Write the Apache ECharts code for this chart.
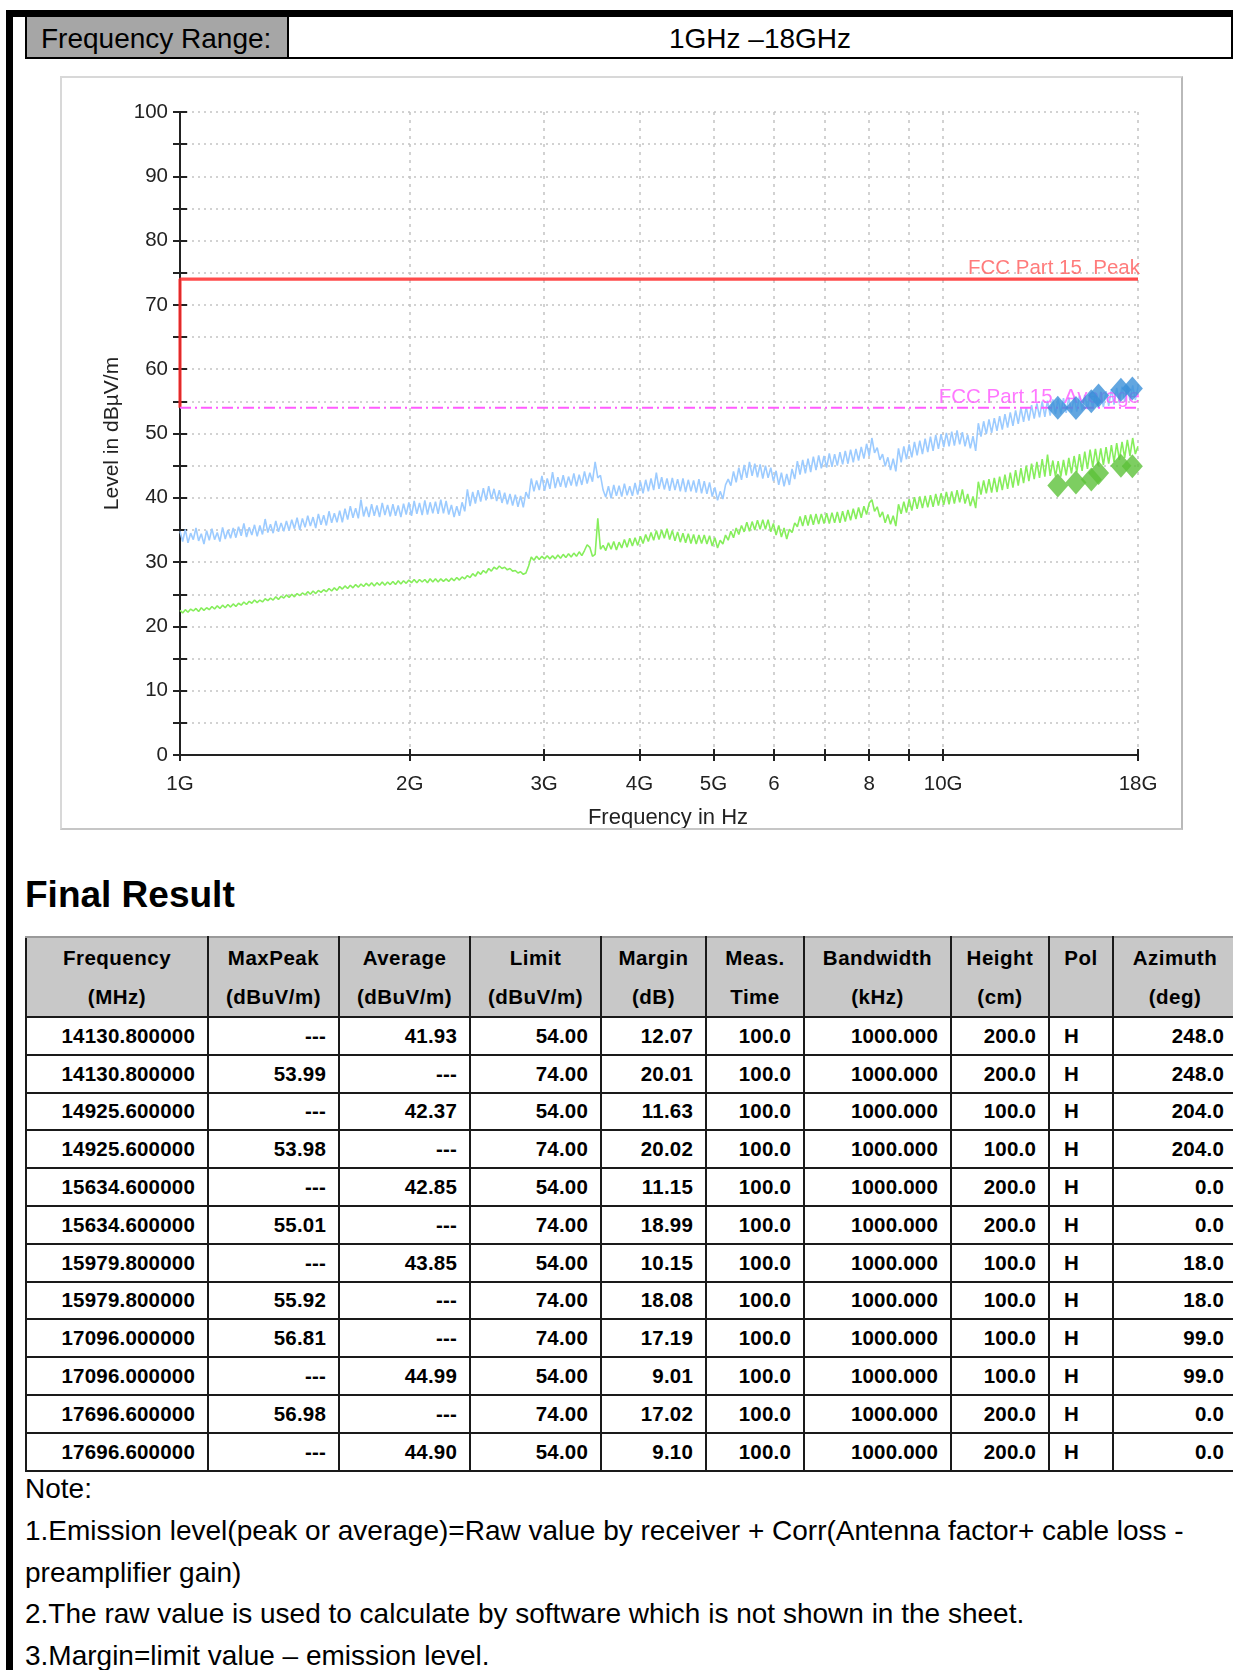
<!DOCTYPE html>
<html>
<head>
<meta charset="utf-8">
<script src="https://cdn.jsdelivr.net/npm/echarts@6/dist/echarts.min.js"></script>
<style>
html,body{margin:0;padding:0;background:#fff;}
body{width:1233px;height:1670px;position:relative;overflow:hidden;font-family:"Liberation Sans",Arial,sans-serif;color:#000;}
.bar{position:absolute;background:#000;}
#rangeRow{position:absolute;left:25px;top:17px;width:1208px;height:42px;box-sizing:border-box;border-left:2px solid #000;border-bottom:2px solid #000;border-right:2px solid #000;display:flex;}
#rangeLabel{width:262px;background:#a6a6a6;border-right:2px solid #000;font-size:28px;line-height:40px;padding-left:14px;padding-top:2px;box-sizing:border-box;white-space:nowrap;}
#rangeValue{flex:1;text-align:center;font-size:28px;line-height:40px;padding-top:2px;white-space:nowrap;}
#chartBox{position:absolute;left:60px;top:76px;width:1123px;height:754px;box-sizing:border-box;border:2px solid #d8d8d8;border-right-color:#b9b9b9;border-bottom-color:#c6c6c6;}
#chart{position:absolute;left:0;top:0;width:1119px;height:750px;}
#finalTitle{position:absolute;left:25px;top:875px;font-size:37px;font-weight:bold;line-height:40px;}
#result{position:absolute;left:25px;top:936px;border-collapse:collapse;table-layout:fixed;width:1211px;}
#result th,#result td{border:2px solid #1a1a1a;font-weight:bold;font-size:20.5px;padding:0;overflow:hidden;white-space:nowrap;}
#result thead th{background:#c8c8c8;height:76px;line-height:39px;text-align:center;letter-spacing:0.5px;border-top-color:#9a9a9a;}
#result td{height:35.8px;text-align:right;padding-right:12px;letter-spacing:0.2px;}
#result td.pol{text-align:left;padding-left:14px;padding-right:0;}
#notes{position:absolute;left:25px;top:1468px;font-size:28px;line-height:41.8px;white-space:nowrap;}
</style>
</head>
<body>
<div class="bar" style="left:6px;top:10px;width:1227px;height:7px;"></div>
<div class="bar" style="left:6px;top:10px;width:7px;height:1660px;"></div>
<div id="rangeRow"><div id="rangeLabel">Frequency Range:</div><div id="rangeValue">1GHz –18GHz</div></div>
<div id="chartBox"><div id="chart"></div></div>
<div id="finalTitle">Final Result</div>
<table id="result">
<colgroup>
<col style="width:182px"><col style="width:131px"><col style="width:131px"><col style="width:131px"><col style="width:105px"><col style="width:98px"><col style="width:147px"><col style="width:98px"><col style="width:64px"><col style="width:124px">
</colgroup>
<thead><tr id="headRow"></tr></thead>
<tbody id="tbody"></tbody>
</table>
<div id="notes">Note:<br>1.Emission level(peak or average)=Raw value by receiver + Corr(Antenna factor+ cable loss -<br>preamplifier gain)<br>2.The raw value is used to calculate by software which is not shown in the sheet.<br>3.Margin=limit value – emission level.</div>

<script>
// ---------------- DATA ----------------
// Sweep grid (GHz) of the measured traces: log-spaced between start and stop
const sweepStartGHz = 1;
const sweepStopGHz = 18;

// Peak detector trace (dBµV/m)
const peakTrace = [
34.8,33.2,35.1,33.0,34.5,33.5,35.3,33.3,34.4,32.8,34.9,33.4,35.2,33.5,34.6,33.2,35.4,33.6,35.0,33.7,
35.3,33.8,35.5,34.1,36.0,33.9,35.4,34.2,35.8,34.0,35.7,34.3,36.7,34.6,35.9,34.5,36.4,34.7,36.1,34.8,
36.4,34.9,36.6,35.2,36.9,35.0,36.8,35.4,37.2,35.6,37.0,35.3,37.5,35.8,37.3,35.7,37.9,36.1,37.6,36.2,
38.0,36.2,38.3,36.6,38.7,36.9,38.4,36.8,39.7,37.1,38.6,37.0,39.0,37.2,38.8,37.0,39.2,37.3,38.9,37.1,
39.0,37.2,38.8,37.0,39.1,37.4,39.3,37.2,39.5,37.5,39.2,37.3,39.6,37.4,39.3,37.6,39.4,37.5,39.7,37.6,
39.5,37.4,38.9,37.0,38.7,37.2,39.3,37.9,41.3,38.7,40.9,39.1,41.2,39.4,41.5,39.6,41.8,39.8,41.4,39.5,
41.2,39.2,40.8,39.0,40.6,38.8,40.5,38.6,40.3,38.5,40.9,39.9,43.0,41.0,42.7,41.2,43.4,41.1,43.0,41.4,
44.0,41.5,43.2,41.7,43.5,41.6,43.3,41.9,43.8,41.8,43.6,42.0,44.1,42.2,43.9,42.5,45.6,43.1,43.5,41.2,
40.1,41.8,39.9,42.0,40.3,41.9,40.2,42.2,40.4,41.8,40.3,42.3,40.5,42.5,40.7,42.8,41.0,43.0,41.2,43.9,
41.4,43.2,41.3,43.0,41.1,43.1,41.2,42.9,41.0,43.0,40.9,42.8,41.0,42.7,40.8,42.9,40.7,42.6,40.6,42.4,
40.2,41.6,39.6,41.0,39.8,42.0,42.9,41.9,44.1,42.4,44.7,42.8,45.1,43.1,45.6,43.4,45.3,43.2,45.2,43.0,
45.0,43.1,44.7,42.6,44.2,42.0,43.9,41.8,43.7,42.0,44.5,42.9,45.7,43.6,45.9,43.8,46.1,44.0,46.4,44.3,
46.6,44.6,46.5,44.7,46.9,44.8,46.8,45.0,47.1,45.2,47.3,45.3,47.5,45.5,47.6,45.8,47.9,46.1,48.4,46.5,
49.3,47.0,47.8,45.9,46.8,44.9,46.3,44.3,46.1,44.1,47.7,45.5,48.0,46.0,48.3,46.3,48.7,46.6,48.9,46.8,
49.2,47.1,49.5,47.3,49.8,47.6,49.9,47.9,50.1,48.0,50.3,48.1,50.5,48.3,50.2,48.0,49.8,47.7,49.6,47.3,
51.6,49.5,51.9,49.9,52.2,50.1,52.4,50.4,52.7,50.6,53.0,50.9,53.3,51.2,53.6,51.5,54.0,51.8,54.1,52.0,
54.4,52.3,54.7,52.5,55.0,52.6,55.1,52.8,55.3,53.0,55.4,53.1,55.5,53.2,55.6,53.3,55.7,53.4,55.9,53.6,
56.0,53.8,56.2,53.9,56.3,54.0,56.5,54.1,56.6,54.3,56.9,54.5,57.1,54.7,57.3,54.9,57.4,55.1,57.5,55.2,
57.2];

// Average detector trace (dBµV/m)
const avgTrace = [
22.5,22.1,22.6,22.2,22.7,22.4,22.8,22.3,22.9,22.5,22.9,22.6,23.1,22.7,23.2,22.8,23.3,22.9,23.4,23.0,
23.5,23.1,23.6,23.3,23.8,23.4,23.9,23.6,24.1,23.7,24.1,23.8,24.3,24.0,24.4,24.1,24.6,24.2,24.7,24.4,
24.9,24.5,25.0,24.6,25.1,24.8,25.2,24.9,25.4,25.0,25.5,25.1,25.6,25.3,25.7,25.4,25.9,25.5,26.0,25.6,
26.2,25.8,26.3,25.9,26.4,26.0,26.5,26.1,26.6,26.2,26.7,26.3,26.8,26.3,26.8,26.4,26.9,26.4,26.9,26.5,
27.0,26.5,27.1,26.6,27.1,26.7,27.2,26.8,27.3,26.8,27.3,26.9,27.3,26.8,27.4,26.9,27.4,26.9,27.4,27.0,
27.4,27.0,27.5,27.1,27.6,27.2,27.7,27.4,27.9,27.6,28.2,27.8,28.5,28.1,28.7,28.3,29.0,28.6,29.2,28.9,
29.4,29.0,29.2,28.8,29.0,28.6,28.7,28.3,28.5,28.1,28.3,29.4,30.8,30.3,30.9,30.4,30.9,30.5,31.0,30.5,
31.0,30.5,31.1,30.6,31.2,30.7,31.3,30.8,31.4,30.9,31.6,31.0,31.8,32.7,32.3,30.9,31.2,36.8,32.0,32.6,
31.8,33.0,32.0,33.2,31.9,33.1,32.2,33.5,32.3,33.7,32.5,33.8,32.6,34.0,32.9,34.3,33.2,34.6,33.4,34.9,
33.5,35.0,33.7,35.2,33.5,34.9,33.3,34.7,33.1,34.5,33.0,34.4,32.9,34.3,32.8,34.2,32.9,34.2,32.8,34.1,
32.5,33.8,32.2,33.4,32.8,34.2,33.4,34.8,33.8,35.3,34.3,35.7,34.7,36.2,34.8,36.3,35.0,36.5,35.1,36.6,
35.1,36.6,34.7,36.0,34.2,35.7,33.9,35.3,33.6,35.1,34.6,36.1,35.5,37.1,35.6,37.3,35.7,37.4,35.8,37.5,
35.9,37.5,36.0,37.6,36.0,37.7,36.1,37.8,36.1,37.9,36.3,38.1,36.5,38.3,36.7,38.5,36.9,38.7,37.4,39.2,
39.7,37.9,38.6,37.0,37.8,36.1,37.4,35.9,37.2,35.6,39.0,37.5,39.4,37.7,39.8,38.0,40.1,38.3,40.2,38.4,
40.3,38.5,40.4,38.6,40.6,38.8,40.7,38.9,40.9,39.0,41.0,39.1,41.2,39.3,41.3,39.1,40.6,38.7,40.2,38.4,
42.5,40.5,42.7,40.7,42.9,40.8,43.1,40.9,43.3,41.2,43.6,41.4,43.9,41.6,44.3,41.9,44.6,42.3,45.0,42.6,
45.3,42.9,45.6,43.1,46.0,43.3,46.7,43.4,45.8,43.3,45.7,43.3,45.9,43.5,46.2,43.8,46.5,44.0,46.8,44.2,
47.2,44.5,47.5,44.8,47.6,45.0,47.7,45.1,47.9,45.3,48.2,45.6,48.5,45.9,48.7,46.2,49.0,46.5,49.3,46.8,
48.0];

// Limits
const peakLimit = 74;
const avgLimit = 54;
const peakLimitName = 'FCC Part 15  Peak';
const avgLimitName = 'FCC Part 15  Average';

// Axis ticks (GHz)
const xTickFreqs = [1, 2, 3, 4, 5, 6, 7, 8, 9, 10, 18];
const xLabelFreqs = [1, 2, 3, 4, 5, 6, 8, 10, 18];
const xLabelTexts = ['1G', '2G', '3G', '4G', '5G', '6', '8', '10G', '18G'];

// Final result table
const resFreq = [14130.8, 14130.8, 14925.6, 14925.6, 15634.6, 15634.6, 15979.8, 15979.8, 17096.0, 17096.0, 17696.6, 17696.6];
const resMaxPeak = [null, 53.99, null, 53.98, null, 55.01, null, 55.92, 56.81, null, 56.98, null];
const resAverage = [41.93, null, 42.37, null, 42.85, null, 43.85, null, null, 44.99, null, 44.90];
const resLimit = [54, 74, 54, 74, 54, 74, 54, 74, 74, 54, 74, 54];
const resMargin = [12.07, 20.01, 11.63, 20.02, 11.15, 18.99, 10.15, 18.08, 17.19, 9.01, 17.02, 9.10];
const resMeasTime = [100, 100, 100, 100, 100, 100, 100, 100, 100, 100, 100, 100];
const resBandwidth = [1000, 1000, 1000, 1000, 1000, 1000, 1000, 1000, 1000, 1000, 1000, 1000];
const resHeight = [200, 200, 100, 100, 200, 200, 100, 100, 100, 100, 200, 200];
const resPol = ['H', 'H', 'H', 'H', 'H', 'H', 'H', 'H', 'H', 'H', 'H', 'H'];
const resAzimuth = [248, 248, 204, 204, 0, 0, 18, 18, 99, 99, 0, 0];
const headLines = [['Frequency', '(MHz)'], ['MaxPeak', '(dBuV/m)'], ['Average', '(dBuV/m)'], ['Limit', '(dBuV/m)'], ['Margin', '(dB)'], ['Meas.', 'Time'], ['Bandwidth', '(kHz)'], ['Height', '(cm)'], ['Pol', ''], ['Azimuth', '(deg)']];

// ---------------- TABLE ----------------
const headRow = document.getElementById('headRow');
headLines.forEach(h => {
  const th = document.createElement('th');
  th.innerHTML = h[0] + '<br>' + (h[1] || '&nbsp;');
  headRow.appendChild(th);
});
const tbody = document.getElementById('tbody');
const dash = '---';
for (let i = 0; i < resFreq.length; i++) {
  const cells = [
    resFreq[i].toFixed(6),
    resMaxPeak[i] == null ? dash : resMaxPeak[i].toFixed(2),
    resAverage[i] == null ? dash : resAverage[i].toFixed(2),
    resLimit[i].toFixed(2),
    resMargin[i].toFixed(2),
    resMeasTime[i].toFixed(1),
    resBandwidth[i].toFixed(3),
    resHeight[i].toFixed(1),
    resPol[i],
    resAzimuth[i].toFixed(1)
  ];
  const tr = document.createElement('tr');
  cells.forEach((c, k) => {
    const td = document.createElement('td');
    td.textContent = c;
    if (k === 8) td.className = 'pol';
    tr.appendChild(td);
  });
  tbody.appendChild(tr);
}

// ---------------- CHART ----------------
const lg = v => Math.log10(v);
const n = peakTrace.length;
const sweepFreq = peakTrace.map((_, i) => sweepStartGHz * Math.pow(sweepStopGHz / sweepStartGHz, i / (n - 1)));
const FONT = '"Liberation Sans", Arial, sans-serif';
const xMin = lg(sweepStartGHz), xMax = lg(sweepStopGHz);

function xLabel(v) {
  const f = Math.pow(10, v);
  for (let i = 0; i < xLabelFreqs.length; i++) {
    if (Math.abs(xLabelFreqs[i] - f) < 0.01) return xLabelTexts[i];
  }
  return '';
}

const peakMarks = [], avgMarks = [];
for (let i = 0; i < resFreq.length; i++) {
  if (resMaxPeak[i] != null) peakMarks.push([lg(resFreq[i] / 1000), resMaxPeak[i]]);
  if (resAverage[i] != null) avgMarks.push([lg(resFreq[i] / 1000), resAverage[i]]);
}

const axisColor = '#222';
const option = {
  animation: false,
  backgroundColor: '#fff',
  textStyle: { fontFamily: FONT },
  grid: { left: 118, right: 43, top: 34, bottom: 73, containLabel: false, outerBoundsMode: 'none' },
  xAxis: [{
    type: 'value', min: xMin, max: xMax,
    axisLine: { show: true, onZero: false, lineStyle: { color: axisColor, width: 2 } },
    axisTick: { show: true, customValues: xTickFreqs.map(lg), length: 6, lineStyle: { color: axisColor, width: 2 } },
    axisLabel: { customValues: xLabelFreqs.map(lg), formatter: xLabel, fontSize: 20.5, color: axisColor, margin: 19, fontFamily: FONT },
    splitLine: { show: true, lineStyle: { color: '#c4c4c4', type: [3, 5], width: 1.5 } },
    name: 'Frequency in Hz', nameLocation: 'middle', nameGap: 52,
    nameTextStyle: { fontSize: 22, color: axisColor, fontFamily: FONT, padding: [0, 0, 0, 18] }
  }, {
    type: 'value', min: xMin, max: xMax, position: 'bottom',
    axisLine: { show: false },
    axisTick: { show: true, inside: true, customValues: xTickFreqs.map(lg), length: 6, lineStyle: { color: axisColor, width: 2 } },
    axisLabel: { show: false }, splitLine: { show: false }
  }],
  yAxis: [{
    type: 'value', min: 0, max: 100, interval: 5,
    axisLine: { show: true, onZero: false, lineStyle: { color: axisColor, width: 2 } },
    axisTick: { show: true, length: 7, lineStyle: { color: axisColor, width: 2 } },
    axisLabel: { formatter: v => (v % 10 === 0 ? String(v) : ''), fontSize: 20.5, color: axisColor, margin: 12, fontFamily: FONT },
    splitLine: { show: true, lineStyle: { color: '#c4c4c4', type: [2, 4], width: 1.5 } },
    name: 'Level in dBµV/m', nameLocation: 'middle', nameGap: 57,
    nameTextStyle: { fontSize: 21, color: axisColor, fontFamily: FONT }
  }, {
    type: 'value', min: 0, max: 100, interval: 5, position: 'left',
    axisLine: { show: false },
    axisTick: { show: true, inside: true, length: 7, lineStyle: { color: axisColor, width: 2 } },
    axisLabel: { show: false }, splitLine: { show: false }
  }],
  series: [
    {
      type: 'line', name: 'Average', data: sweepFreq.map((f, i) => [lg(f), avgTrace[i]]),
      showSymbol: false, symbol: 'none', lineStyle: { color: '#86ee5c', width: 1.6 }, z: 3
    },
    {
      type: 'line', name: 'Peak', data: sweepFreq.map((f, i) => [lg(f), peakTrace[i]]),
      showSymbol: false, symbol: 'none', lineStyle: { color: '#9ccbff', width: 1.6 }, z: 3
    },
    {
      type: 'line', name: peakLimitName,
      data: [[xMin, avgLimit], [xMin, peakLimit], [xMax, peakLimit]],
      showSymbol: false, symbol: 'none', lineStyle: { color: 'rgba(255,45,45,0.85)', width: 3.2 }, z: 4
    },
    {
      type: 'line', name: avgLimitName,
      data: [[xMin, avgLimit], [xMax, avgLimit]],
      showSymbol: false, symbol: 'none', lineStyle: { color: '#ff5cff', width: 2, type: [11, 4, 2, 4] }, z: 4
    },
    {
      type: 'scatter', data: [[xMax, peakLimit]], symbolSize: 0, z: 6,
      label: { show: true, position: 'top', align: 'right', offset: [2, 5], formatter: peakLimitName, fontSize: 20.5, color: '#ff5a5a', fontFamily: FONT }
    },
    {
      type: 'scatter', data: [[xMax, avgLimit]], symbolSize: 0, z: 6,
      label: { show: true, position: 'top', align: 'right', offset: [2, 5], formatter: avgLimitName, fontSize: 20.5, color: '#ff55ff', fontFamily: FONT }
    },
    {
      type: 'scatter', name: 'MaxPeak', data: peakMarks, symbol: 'diamond', symbolSize: [21, 24],
      itemStyle: { color: '#3b90d8' }, z: 7
    },
    {
      type: 'scatter', name: 'AverageMarks', data: avgMarks, symbol: 'diamond', symbolSize: [21, 24],
      itemStyle: { color: '#5cc23a' }, z: 7
    }
  ]
};
const chart = echarts.init(document.getElementById('chart'), null, { renderer: 'canvas' });
chart.setOption(option);
</script>
</body>
</html>
